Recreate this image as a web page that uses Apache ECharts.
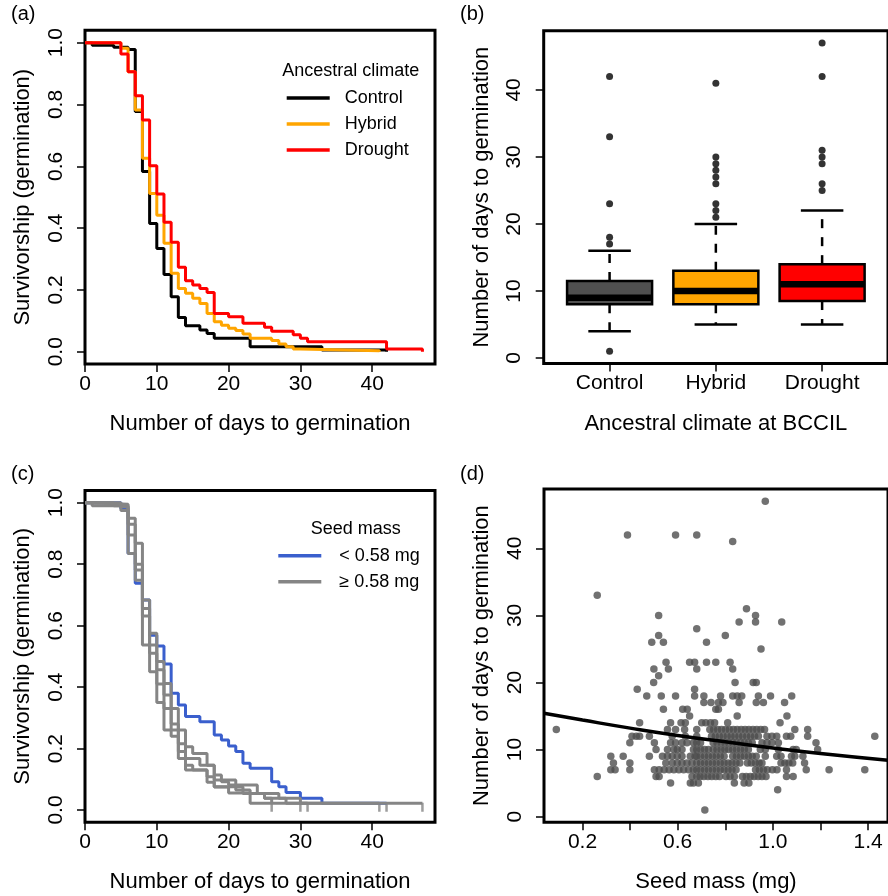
<!DOCTYPE html>
<html>
<head>
<meta charset="utf-8">
<script src="https://cdn.jsdelivr.net/npm/echarts@6/dist/echarts.min.js"></script>
<style>
  html, body { margin: 0; padding: 0; background: #fff; }
  #chart { width: 888px; height: 896px; }
</style>
</head>
<body>
<div id="chart"></div>
<script>
// ---------- (a) germination survivorship by ancestral climate ----------
const controlDays = [0, 1, 4, 6, 7, 8, 9, 10, 11, 12, 13, 14, 16, 17, 18, 23, 33, 42];
const controlSurv = [1, 0.992, 0.985, 0.978, 0.777, 0.583, 0.415, 0.334, 0.25, 0.178, 0.111, 0.084, 0.07, 0.059, 0.044, 0.016, 0.006, 0];
const hybridDays = [0, 5, 6, 7, 8, 9, 10, 11, 12, 13, 14, 15, 16, 17, 18, 19, 20, 21, 22, 23, 26, 27, 28, 29, 30, 41];
const hybridSurv = [1, 0.982, 0.906, 0.782, 0.626, 0.512, 0.442, 0.351, 0.254, 0.205, 0.189, 0.173, 0.156, 0.124, 0.097, 0.086, 0.076, 0.069, 0.057, 0.044, 0.036, 0.025, 0.016, 0.009, 0.003, 0];
const droughtDays = [0, 5, 6, 7, 8, 9, 10, 11, 12, 13, 14, 15, 16, 17, 18, 20, 22, 25, 26, 29, 30, 31, 42, 47];
const droughtSurv = [1, 0.963, 0.906, 0.828, 0.75, 0.602, 0.51, 0.419, 0.354, 0.273, 0.23, 0.216, 0.205, 0.192, 0.124, 0.113, 0.092, 0.079, 0.066, 0.055, 0.044, 0.032, 0.009, 0];

// ---------- (b) days to germination, box summaries ----------
const climateGroups = ['Control', 'Hybrid', 'Drought'];
const lowerWhisker = [4, 5, 5];
const lowerQuartile = [8, 8, 8.5];
const medianDays = [9, 10, 11];
const upperQuartile = [11.5, 13, 14];
const upperWhisker = [16, 20, 22];
const controlOutliers = [1, 17, 18, 23, 33, 42];
const hybridOutliers = [21, 22, 23, 26, 27, 28, 29, 30, 41];
const droughtOutliers = [25, 26, 29, 30, 31, 42, 47];

// ---------- (c) survivorship by seed mass class ----------
const smallDays = [0, 5, 6, 7, 8, 9, 10, 11, 12, 13, 14, 16, 18, 19, 20, 21, 22, 23, 26, 27, 28, 30, 33, 42];
const smallSurv = [1, 0.98, 0.835, 0.738, 0.683, 0.569, 0.534, 0.475, 0.38, 0.342, 0.304, 0.287, 0.244, 0.228, 0.208, 0.19, 0.152, 0.136, 0.092, 0.076, 0.057, 0.038, 0.022, 0.022];
const largeDays1 = [0, 1, 5, 6, 7, 8, 9, 10, 11, 12, 13, 14, 17, 18, 20, 23, 26];
const largeSurv1 = [1, 0.99, 0.975, 0.835, 0.748, 0.537, 0.45, 0.35, 0.26, 0.24, 0.168, 0.13, 0.09, 0.075, 0.055, 0.022, 0.022];
const largeDays2 = [0, 4, 6, 7, 8, 9, 10, 11, 12, 13, 14, 15, 17, 18, 22, 25, 28, 31];
const largeSurv2 = [1, 0.99, 0.93, 0.8, 0.656, 0.51, 0.41, 0.33, 0.26, 0.19, 0.146, 0.13, 0.108, 0.076, 0.054, 0.038, 0.022, 0.022];
const largeDays3 = [0, 5, 6, 7, 8, 9, 10, 11, 12, 13, 14, 15, 17, 18, 21, 23, 27, 30, 41];
const largeSurv3 = [1, 0.987, 0.949, 0.868, 0.683, 0.575, 0.483, 0.412, 0.33, 0.26, 0.206, 0.184, 0.146, 0.098, 0.065, 0.054, 0.038, 0.022, 0.022];
const largeDays4 = [0, 1, 6, 7, 8, 9, 10, 11, 12, 13, 14, 16, 18, 19, 20, 24, 25, 26, 47];
const largeSurv4 = [1, 0.995, 0.895, 0.781, 0.631, 0.537, 0.456, 0.374, 0.28, 0.216, 0.168, 0.146, 0.114, 0.092, 0.081, 0.054, 0.038, 0.022, 0.022];
const censorDays = [26, 30, 31, 41, 42, 47];
const censorSurv = [0.022, 0.022, 0.022, 0.022, 0.022, 0.022];

// ---------- (d) seed mass vs days to germination ----------
const scatterDays = [47, 42, 41, 33, 31, 30, 29, 28, 27, 26, 25, 23, 22, 21, 20, 19, 18, 17, 16, 15, 14, 13, 12, 11, 10, 9, 8, 7, 6, 5, 4, 1];
const scatterMassRows = [
  [0.968],
  [0.389, 0.591, 0.68],
  [0.831],
  [0.262],
  [0.889],
  [0.52, 0.927],
  [0.858, 0.927, 1.037],
  [0.68],
  [0.52, 0.80],
  [0.491, 0.54, 0.721],
  [0.95],
  [0.551, 0.65, 0.671, 0.721, 0.76, 0.82],
  [0.50, 0.561, 0.68, 0.831],
  [0.52],
  [0.499, 0.841, 0.917, 0.93],
  [0.43, 0.671],
  [0.47, 0.531, 0.591, 0.671, 0.71, 0.78, 0.831, 0.85, 0.869, 0.939, 0.99, 1.079],
  [0.71, 0.74, 0.771, 0.79, 0.858, 0.93, 0.96, 1.049],
  [0.54, 0.621, 0.64, 0.76, 0.771],
  [0.65, 0.85, 1.059],
  [0.44, 0.57, 0.614, 0.632, 0.701, 0.718, 0.738, 0.755, 0.81, 1.03],
  [0.09, 0.557, 0.591, 0.629, 0.68, 0.735, 0.751, 0.768, 0.784, 0.801, 0.817, 0.834, 0.85, 0.867, 0.883, 0.899, 0.916, 0.932, 0.949, 0.965, 1.092, 1.146],
  [0.408, 0.426, 0.44, 0.481, 0.577, 0.632, 0.68, 0.742, 0.758, 0.775, 0.791, 0.808, 0.824, 0.84, 0.857, 0.873, 0.89, 0.906, 0.923, 0.939, 0.975, 0.996, 1.016, 1.057, 1.075, 1.146, 1.428],
  [0.399, 0.502, 0.57, 0.591, 0.618, 0.639, 0.666, 0.68, 0.696, 0.749, 0.765, 0.782, 0.798, 0.814, 0.831, 0.847, 0.864, 0.88, 0.897, 0.913, 0.954, 0.975, 0.996, 1.023, 1.181],
  [0.509, 0.557, 0.584, 0.598, 0.618, 0.666, 0.68, 0.696, 0.713, 0.729, 0.749, 0.765, 0.782, 0.798, 0.814, 0.831, 0.847, 0.864, 0.88, 0.897, 0.947, 0.968, 1.023, 1.085, 1.098, 1.188],
  [0.319, 0.371, 0.481, 0.536, 0.557, 0.577, 0.598, 0.618, 0.653, 0.673, 0.68, 0.696, 0.713, 0.729, 0.746, 0.762, 0.779, 0.795, 0.831, 0.847, 0.864, 0.88, 0.897, 0.913, 0.93, 0.968, 1.016, 1.034, 1.078, 1.092, 1.126],
  [0.33, 0.399, 0.55, 0.577, 0.598, 0.618, 0.639, 0.66, 0.68, 0.696, 0.713, 0.729, 0.746, 0.762, 0.779, 0.795, 0.812, 0.828, 0.845, 0.861, 0.893, 0.909, 0.926, 0.942, 0.954, 1.034, 1.05, 1.067, 1.083, 1.133],
  [0.319, 0.337, 0.399, 0.502, 0.522, 0.543, 0.564, 0.584, 0.605, 0.625, 0.646, 0.666, 0.68, 0.696, 0.713, 0.729, 0.746, 0.762, 0.779, 0.795, 0.812, 0.828, 0.845, 0.927, 0.943, 0.96, 0.976, 0.998, 1.017, 1.057, 1.14, 1.236, 1.386],
  [0.262, 0.509, 0.522, 0.66, 0.68, 0.694, 0.71, 0.727, 0.743, 0.76, 0.776, 0.803, 0.82, 0.838, 0.872, 0.888, 0.905, 0.921, 0.938, 0.954, 0.971, 1.057, 1.085],
  [0.57, 0.653, 0.666, 0.687, 0.838, 0.879, 0.899],
  [1.02],
  [0.714]
];
// fitted trend of days to germination against seed mass
const fitMass = [0.038, 0.2, 0.4, 0.6, 0.8, 1.0, 1.2, 1.4835];
const fitDays = [15.4, 14.4, 13.2, 12.1, 11.15, 10.25, 9.4, 8.4];

// ---------- axis ticks ----------
const dayTicks = [0, 10, 20, 30, 40];
const survTicks = [0, 0.2, 0.4, 0.6, 0.8, 1.0];
const massTicks = [0.2, 0.4, 0.6, 0.8, 1.0, 1.2, 1.4];
const massLabels = [0.2, 0.6, 1.0, 1.4];
const groupTicks = [1, 2, 3];

// ---------- helpers ----------
const FONT = '"Liberation Sans", Arial, Helvetica, sans-serif';
const zip = (xs, ys) => xs.map((x, i) => [x, ys[i]]);

function xAxisOf(grid, min, max, ticks, labels, name, fmt) {
  return {
    type: 'value', gridIndex: grid, min: min, max: max,
    axisLine: { show: false, onZero: false },
    splitLine: { show: false },
    axisTick: { show: true, inside: false, length: 8, lineStyle: { color: '#000', width: 1.5 }, customValues: ticks },
    axisLabel: { show: true, margin: 9, fontSize: 21, lineHeight: 22, color: '#000', fontFamily: FONT, customValues: labels, formatter: fmt },
    name: name, nameLocation: 'middle', nameGap: 48,
    nameTextStyle: { fontSize: 22, lineHeight: 24, color: '#000', fontFamily: FONT }
  };
}
function yAxisOf(grid, min, max, ticks, name, fmt) {
  return {
    type: 'value', gridIndex: grid, min: min, max: max,
    axisLine: { show: false, onZero: false },
    splitLine: { show: false },
    axisTick: { show: true, inside: false, length: 8, lineStyle: { color: '#000', width: 1.5 }, customValues: ticks },
    axisLabel: { show: true, rotate: 90, margin: 18, fontSize: 21, lineHeight: 22, color: '#000', fontFamily: FONT, customValues: ticks, formatter: fmt },
    name: name, nameLocation: 'middle', nameGap: 50,
    nameTextStyle: { fontSize: 22, lineHeight: 24, color: '#000', fontFamily: FONT }
  };
}
function stepLine(name, days, surv, color, xi, width) {
  return {
    type: 'line', name: name, xAxisIndex: xi, yAxisIndex: xi,
    data: zip(days, surv), step: 'end', showSymbol: false, symbol: 'none',
    color: color, itemStyle: { color: color },
    lineStyle: { color: color, width: width || 3 },
    emphasis: { disabled: true }, silent: true, animation: false
  };
}

const boxFills = ['#505050', '#FFA500', '#FF0000'];
const boxData = groupTicks.map((g, i) => [g, lowerWhisker[i], lowerQuartile[i], medianDays[i], upperQuartile[i], upperWhisker[i]]);
const outlierData = []
  .concat(controlOutliers.map(v => [1, v]))
  .concat(hybridOutliers.map(v => [2, v]))
  .concat(droughtOutliers.map(v => [3, v]));

function renderBox(params, api) {
  const x = api.value(0);
  const lo = api.coord([x, api.value(1)]);
  const q1 = api.coord([x, api.value(2)]);
  const md = api.coord([x, api.value(3)]);
  const q3 = api.coord([x, api.value(4)]);
  const hi = api.coord([x, api.value(5)]);
  const halfBox = api.size([0.4, 0])[0];
  const halfCap = api.size([0.2, 0])[0];
  const dash = { stroke: '#000', lineWidth: 2.5, lineDash: [9, 9] };
  const solid = { stroke: '#000', lineWidth: 2.5 };
  return {
    type: 'group',
    children: [
      { type: 'line', shape: { x1: lo[0], y1: q1[1], x2: lo[0], y2: lo[1] }, style: dash },
      { type: 'line', shape: { x1: hi[0], y1: q3[1], x2: hi[0], y2: hi[1] }, style: dash },
      { type: 'line', shape: { x1: lo[0] - halfCap, y1: lo[1], x2: lo[0] + halfCap, y2: lo[1] }, style: solid },
      { type: 'line', shape: { x1: hi[0] - halfCap, y1: hi[1], x2: hi[0] + halfCap, y2: hi[1] }, style: solid },
      { type: 'rect', shape: { x: q1[0] - halfBox, y: q3[1], width: 2 * halfBox, height: q1[1] - q3[1] },
        style: { fill: boxFills[params.dataIndex], stroke: '#000', lineWidth: 2.5 } },
      { type: 'line', shape: { x1: md[0] - halfBox, y1: md[1], x2: md[0] + halfBox, y2: md[1] },
        style: { stroke: '#000', lineWidth: 6.5 } }
    ]
  };
}

const scatterData = [];
scatterDays.forEach((d, i) => scatterMassRows[i].forEach(m => scatterData.push([m, d])));

const oneDec = v => Number(v).toFixed(1);
const plain = v => String(Math.round(v));
const groupName = v => climateGroups[Math.round(v) - 1];

const gridStyle = { show: true, borderColor: '#000', borderWidth: 3, backgroundColor: 'transparent' };

const option = {
  animation: false,
  backgroundColor: '#fff',
  grid: [
    Object.assign({ left: 85, top: 30.3, width: 350, height: 333.8 }, gridStyle),
    Object.assign({ left: 543.7, top: 30.7, width: 351.5, height: 332.9 }, gridStyle),
    Object.assign({ left: 85, top: 490.4, width: 350, height: 331.9 }, gridStyle),
    Object.assign({ left: 544, top: 489, width: 351.2, height: 333.3 }, gridStyle)
  ],
  xAxis: [
    xAxisOf(0, 0, 48.75, dayTicks, dayTicks, 'Number of days to germination', plain),
    xAxisOf(1, 0.38, 3.62, groupTicks, groupTicks, 'Ancestral climate at BCCIL', groupName),
    xAxisOf(2, 0, 48.75, dayTicks, dayTicks, 'Number of days to germination', plain),
    xAxisOf(3, 0.0383, 1.4835, massTicks, massLabels, 'Seed mass (mg)', oneDec)
  ],
  yAxis: [
    yAxisOf(0, -0.04, 1.04, survTicks, 'Survivorship (germination)', oneDec),
    yAxisOf(1, -0.84, 48.84, dayTicks, 'Number of days to germination', plain),
    yAxisOf(2, -0.04, 1.04, survTicks, 'Survivorship (germination)', oneDec),
    yAxisOf(3, -0.84, 48.84, dayTicks, 'Number of days to germination', plain)
  ],
  legend: [
    {
      data: ['Control', 'Hybrid', 'Drought'], orient: 'vertical', left: 286.7, top: 88, padding: 0,
      itemWidth: 43, itemHeight: 3.5, icon: 'rect', itemGap: 6, selectedMode: false,
      textStyle: { fontSize: 18, lineHeight: 20, color: '#000', fontFamily: FONT, padding: [0, 0, 0, 10] }
    },
    {
      data: ['< 0.58 mg', '\u2265 0.58 mg'], orient: 'vertical', left: 278.3, top: 545.7, padding: 0,
      itemWidth: 43, itemHeight: 3.5, icon: 'rect', itemGap: 6, selectedMode: false,
      textStyle: { fontSize: 18, lineHeight: 20, color: '#000', fontFamily: FONT, padding: [0, 0, 0, 13] }
    }
  ],
  graphic: [
    { type: 'text', x: 11, y: 14, style: { text: '(a)', font: '20px ' + FONT, fill: '#000', verticalAlign: 'middle' } },
    { type: 'text', x: 460, y: 14, style: { text: '(b)', font: '20px ' + FONT, fill: '#000', verticalAlign: 'middle' } },
    { type: 'text', x: 11, y: 474, style: { text: '(c)', font: '20px ' + FONT, fill: '#000', verticalAlign: 'middle' } },
    { type: 'text', x: 460, y: 474, style: { text: '(d)', font: '20px ' + FONT, fill: '#000', verticalAlign: 'middle' } },
    { type: 'text', x: 350.8, y: 70.7, style: { text: 'Ancestral climate', font: '18px ' + FONT, fill: '#000', align: 'center', verticalAlign: 'middle' } },
    { type: 'text', x: 355.8, y: 529.3, style: { text: 'Seed mass', font: '18px ' + FONT, fill: '#000', align: 'center', verticalAlign: 'middle' } }
  ],
  series: [
    // (a)
    stepLine('Control', controlDays, controlSurv, '#000000', 0),
    stepLine('Hybrid', hybridDays, hybridSurv, '#FFA500', 0),
    stepLine('Drought', droughtDays, droughtSurv, '#FF0000', 0),
    // (b)
    {
      type: 'custom', name: 'boxes', xAxisIndex: 1, yAxisIndex: 1, data: boxData,
      renderItem: renderBox, encode: { x: 0, y: [1, 2, 3, 4, 5] }, silent: true
    },
    {
      type: 'scatter', name: 'outliers', xAxisIndex: 1, yAxisIndex: 1, data: outlierData,
      symbol: 'circle', symbolSize: 7, itemStyle: { color: '#000' }, silent: true
    },
    // (c)
    stepLine('< 0.58 mg', smallDays, smallSurv, '#3A5FCD', 2),
    stepLine('\u2265 0.58 mg', largeDays1, largeSurv1, '#858585', 2),
    stepLine('\u2265 0.58 mg', largeDays2, largeSurv2, '#858585', 2),
    stepLine('\u2265 0.58 mg', largeDays3, largeSurv3, '#858585', 2),
    stepLine('\u2265 0.58 mg', largeDays4, largeSurv4, '#858585', 2),
    {
      type: 'scatter', name: 'censored', xAxisIndex: 2, yAxisIndex: 2, data: zip(censorDays, censorSurv),
      symbol: 'rect', symbolSize: [2.5, 9], symbolOffset: [0, 4], itemStyle: { color: '#858585' }, silent: true
    },
    // (d)
    {
      type: 'scatter', name: 'seeds', xAxisIndex: 3, yAxisIndex: 3, data: scatterData,
      symbol: 'circle', symbolSize: 7.5, itemStyle: { color: '#4D4D4D' }, silent: true
    },
    {
      type: 'line', name: 'trend', xAxisIndex: 3, yAxisIndex: 3, data: zip(fitMass, fitDays),
      smooth: true, showSymbol: false, symbol: 'none', lineStyle: { color: '#000', width: 3.5 }, silent: true
    }
  ]
};

const chart = echarts.init(document.getElementById('chart'), null, { renderer: 'canvas' });
chart.setOption(option);
</script>
</body>
</html>
